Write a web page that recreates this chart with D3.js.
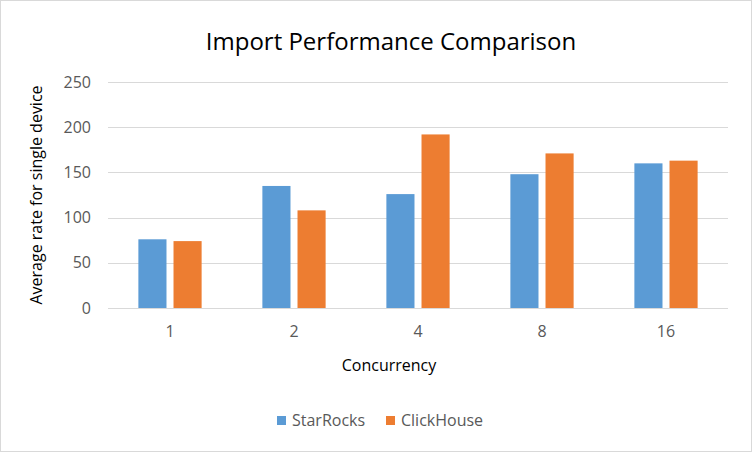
<!DOCTYPE html>
<html lang="en">
<head>
<meta charset="UTF-8">
<title>Import Performance Comparison</title>
<script src="https://cdn.jsdelivr.net/npm/d3@7/dist/d3.min.js"></script>
<style>
  body { margin: 0; background: #fff; }
  text { font-family: "Open Sans", "Noto Sans", sans-serif; }
</style>
</head>
<body>
<div id="container"></div>
<script>
// data
let categories = ["1", "2", "4", "8", "16"];
let seriesNames = ["StarRocks", "ClickHouse"];
let starRocks = [76, 135, 126, 148, 160];
let clickHouse = [74, 108, 192, 171, 163];
let yTicks = [0, 50, 100, 150, 200, 250];
let colors = ["#5b9bd5", "#ed7d31"];

let W = 752, H = 452;
let margin = {top: 82, right: 24, bottom: 144, left: 108};

let svg = d3.select('#container')
    .append('svg')
    .attr('width', W)
    .attr('height', H);

// outer chart border
svg.append('rect')
    .attr('x', 0.5).attr('y', 0.5)
    .attr('width', W - 1).attr('height', H - 1)
    .attr('fill', '#fff')
    .attr('stroke', '#d9d9d9');

let rows = categories.map((c, i) => ({cat: c, vals: [starRocks[i], clickHouse[i]]}));

let x0 = d3.scaleBand()
    .domain(categories)
    .range([margin.left, W - margin.right])
    .paddingInner(0.49)
    .paddingOuter(0.245);

let x1 = d3.scaleBand()
    .domain([0, 1])
    .range([0, x0.bandwidth()])
    .paddingInner(0.2);

let y = d3.scaleLinear()
    .domain([0, 250])
    .range([H - margin.bottom, margin.top]);

// gridlines
svg.append('g')
    .selectAll('line')
    .data(yTicks)
    .join('line')
    .attr('x1', margin.left)
    .attr('x2', W - margin.right)
    .attr('y1', d => Math.round(y(d)) + 0.5)
    .attr('y2', d => Math.round(y(d)) + 0.5)
    .attr('stroke', '#d9d9d9')
    .attr('stroke-width', 1);

// y tick labels
let yAxis = svg.append('g')
    .attr('transform', 'translate(' + margin.left + ',0)')
    .call(d3.axisLeft(y).tickValues(yTicks).tickSize(0).tickPadding(17));
yAxis.select('.domain').remove();
yAxis.selectAll('text')
    .attr('fill', '#595959')
    .style('font-size', '16px');

// bars
let groups = svg.append('g')
    .selectAll('g')
    .data(rows)
    .join('g')
    .attr('transform', d => 'translate(' + x0(d.cat) + ',0)');

groups.selectAll('rect')
    .data(d => d.vals.map((v, k) => ({k: k, v: v})))
    .join('rect')
    .attr('x', d => x1(d.k))
    .attr('width', x1.bandwidth())
    .attr('y', d => y(d.v))
    .attr('height', d => y(0) - y(d.v))
    .attr('fill', d => colors[d.k]);

// x axis labels
let xAxis = svg.append('g')
    .attr('transform', 'translate(0,' + (H - margin.bottom) + ')')
    .call(d3.axisBottom(x0).tickSize(0).tickPadding(18));
xAxis.select('.domain').remove();
xAxis.selectAll('text')
    .attr('fill', '#595959')
    .style('font-size', '16px');

// titles
svg.append('text')
    .attr('x', 391)
    .attr('y', 50)
    .attr('text-anchor', 'middle')
    .attr('fill', '#000')
    .style('font-size', '24px')
    .text('Import Performance Comparison');

svg.append('text')
    .attr('x', 389)
    .attr('y', 371)
    .attr('text-anchor', 'middle')
    .attr('fill', '#000')
    .style('font-size', '16px')
    .text('Concurrency');

svg.append('text')
    .attr('transform', 'translate(42,' + ((margin.top + H - margin.bottom) / 2) + ') rotate(-90)')
    .attr('text-anchor', 'middle')
    .attr('fill', '#000')
    .style('font-size', '16px')
    .text('Average rate for single device');

// legend
let legendX = [277, 386];
let legend = svg.append('g')
    .selectAll('g')
    .data(seriesNames)
    .join('g')
    .attr('transform', (d, i) => 'translate(' + legendX[i] + ',416)');
legend.append('rect')
    .attr('width', 9).attr('height', 9)
    .attr('fill', (d, i) => colors[i]);
legend.append('text')
    .attr('x', 15)
    .attr('y', 10)
    .attr('fill', '#595959')
    .style('font-size', '16px')
    .text(d => d);
</script>
</body>
</html>
